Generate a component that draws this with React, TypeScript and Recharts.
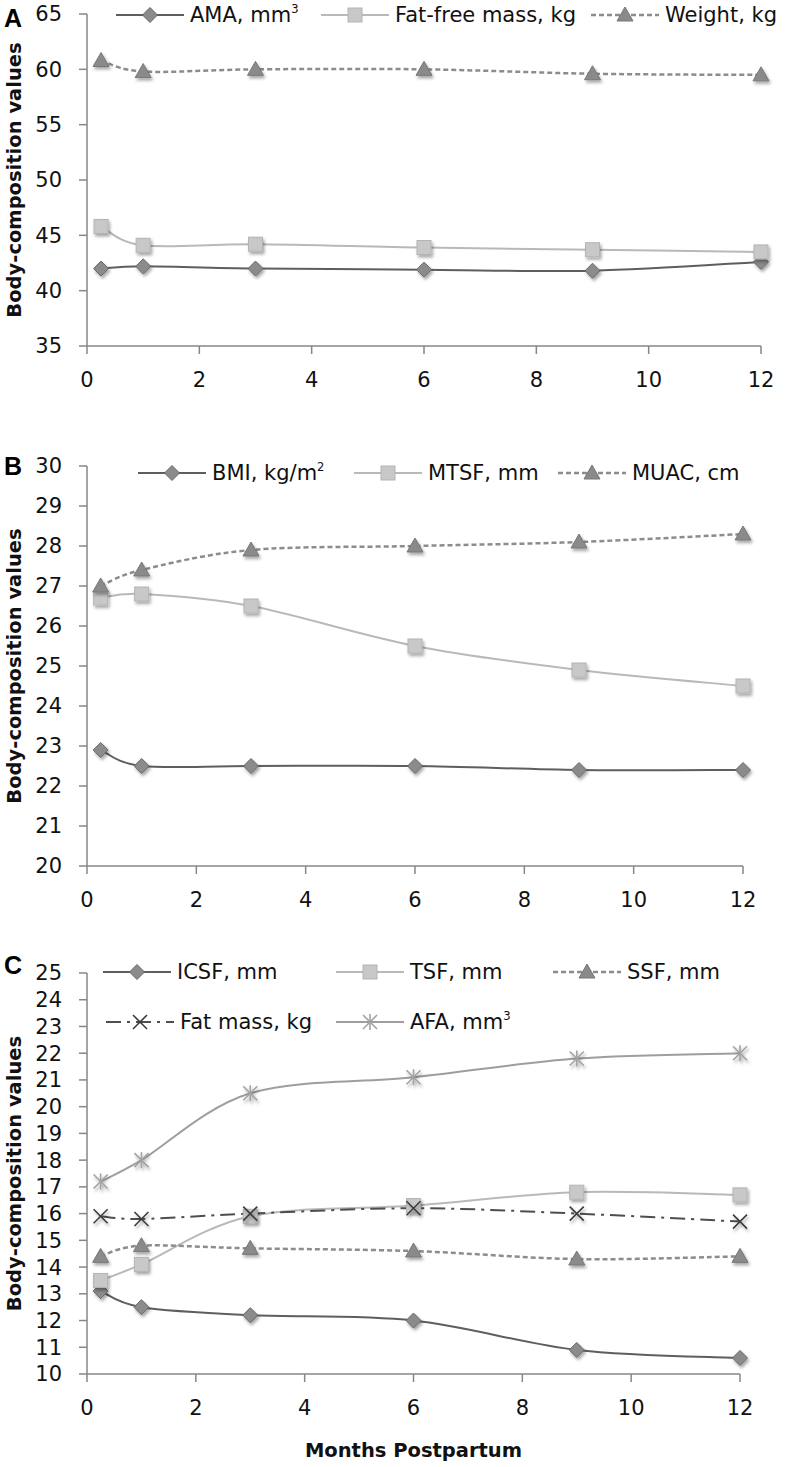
import React from 'react';
import { LineChart, Line, XAxis, YAxis } from 'recharts';

// --- data ---
const MONTHS = [0.25, 1, 3, 6, 9, 12];
const X_TICKS = [0, 2, 4, 6, 8, 10, 12];

// panel A
const AMA = [42.0, 42.2, 42.0, 41.9, 41.8, 42.6];
const FAT_FREE = [45.8, 44.1, 44.2, 43.9, 43.7, 43.5];
const WEIGHT = [60.8, 59.8, 60.0, 60.0, 59.6, 59.5];
const A_TICKS = [35, 40, 45, 50, 55, 60, 65];

// panel B
const BMI = [22.9, 22.5, 22.5, 22.5, 22.4, 22.4];
const MTSF = [26.7, 26.8, 26.5, 25.5, 24.9, 24.5];
const MUAC = [27.0, 27.4, 27.9, 28.0, 28.1, 28.3];
const B_TICKS = [20, 21, 22, 23, 24, 25, 26, 27, 28, 29, 30];

// panel C
const ICSF = [13.1, 12.5, 12.2, 12.0, 10.9, 10.6];
const TSF = [13.5, 14.1, 15.9, 16.3, 16.8, 16.7];
const SSF = [14.4, 14.8, 14.7, 14.6, 14.3, 14.4];
const FAT_MASS = [15.9, 15.8, 16.0, 16.2, 16.0, 15.7];
const AFA = [17.2, 18.0, 20.5, 21.1, 21.8, 22.0];
const C_TICKS = [10, 11, 12, 13, 14, 15, 16, 17, 18, 19, 20, 21, 22, 23, 24, 25];

const FONT = '"DejaVu Sans", "Open Sans", sans-serif';
const AXIS = '#878787';

const rows = (series: Record<string, number[]>) =>
  MONTHS.map((m, i) => {
    const r: any = { m };
    Object.keys(series).forEach(k => { r[k] = series[k][i]; });
    return r;
  });

const dataA = rows({ ama: AMA, ffm: FAT_FREE, wt: WEIGHT });
const dataB = rows({ bmi: BMI, mtsf: MTSF, muac: MUAC });
const dataC = rows({ icsf: ICSF, tsf: TSF, ssf: SSF, fm: FAT_MASS, afa: AFA });

// excel-like smoothed line (catmull-rom style bezier)
const smooth: any = (ctx: any) => {
  let pts: number[][] = [];
  return {
    areaStart() {},
    areaEnd() {},
    lineStart() { pts = []; },
    point(x: number, y: number) { pts.push([+x, +y]); },
    lineEnd() {
      if (!pts.length) return;
      ctx.moveTo(pts[0][0], pts[0][1]);
      const t = 1 / 6;
      for (let i = 0; i < pts.length - 1; i++) {
        const p0 = pts[i - 1] || pts[i];
        const p1 = pts[i];
        const p2 = pts[i + 1];
        const p3 = pts[i + 2] || p2;
        ctx.bezierCurveTo(
          p1[0] + (p2[0] - p0[0]) * t, p1[1] + (p2[1] - p0[1]) * t,
          p2[0] - (p3[0] - p1[0]) * t, p2[1] - (p3[1] - p1[1]) * t,
          p2[0], p2[1]
        );
      }
    },
  };
};

// --- markers ---
type MK = 'diamond' | 'square' | 'triangle' | 'x' | 'star';

const Marker = ({ type, cx, cy, shadow = true }: { type: MK; cx: number; cy: number; shadow?: boolean }) => {
  const f = shadow ? 'url(#mk-shadow)' : undefined;
  if (type === 'diamond') {
    const s = 7.5;
    return <polygon points={`${cx},${cy - s} ${cx + s},${cy} ${cx},${cy + s} ${cx - s},${cy}`} fill="#8b8b8b" stroke="#686868" strokeWidth={1} filter={f} />;
  }
  if (type === 'square') {
    const s = 7;
    return <rect x={cx - s} y={cy - s} width={2 * s} height={2 * s} fill="#c8c8c8" stroke="#b4b4b4" strokeWidth={1} filter={f} />;
  }
  if (type === 'triangle') {
    const s = 8;
    return <polygon points={`${cx},${cy - s} ${cx + s},${cy + s * 0.75} ${cx - s},${cy + s * 0.75}`} fill="#8a8a8a" stroke="#777" strokeWidth={1} filter={f} />;
  }
  if (type === 'x') {
    const s = 7;
    return (
      <g stroke="#3c3c3c" strokeWidth={1.6} filter={f}>
        <line x1={cx - s} y1={cy - s} x2={cx + s} y2={cy + s} />
        <line x1={cx - s} y1={cy + s} x2={cx + s} y2={cy - s} />
      </g>
    );
  }
  const s = 7;
  return (
    <g stroke="#a2a2a2" strokeWidth={1.6} filter={f}>
      <line x1={cx - s} y1={cy - s} x2={cx + s} y2={cy + s} />
      <line x1={cx - s} y1={cy + s} x2={cx + s} y2={cy - s} />
      <line x1={cx} y1={cy - s - 1} x2={cx} y2={cy + s + 1} />
    </g>
  );
};

const sup = (t: string) => <sup style={{ fontSize: '0.55em', verticalAlign: '0.75em', lineHeight: 0 }}>{t}</sup>;

type Series = { key: string; name: React.ReactNode; stroke: string; width: number; dash?: string; marker: MK };

const SA: Series[] = [
  { key: 'ama', name: <>AMA, mm{sup('3')}</>, stroke: '#5e5e5e', width: 2, marker: 'diamond' },
  { key: 'ffm', name: 'Fat-free mass, kg', stroke: '#b9b9b9', width: 2, marker: 'square' },
  { key: 'wt', name: 'Weight, kg', stroke: '#8c8c8c', width: 2.5, dash: '5 3', marker: 'triangle' },
];
const SB: Series[] = [
  { key: 'bmi', name: <>BMI, kg/m{sup('2')}</>, stroke: '#5e5e5e', width: 2, marker: 'diamond' },
  { key: 'mtsf', name: 'MTSF, mm', stroke: '#b9b9b9', width: 2, marker: 'square' },
  { key: 'muac', name: 'MUAC, cm', stroke: '#8c8c8c', width: 2.5, dash: '5 3', marker: 'triangle' },
];
const SC: Series[] = [
  { key: 'icsf', name: 'ICSF, mm', stroke: '#5e5e5e', width: 2, marker: 'diamond' },
  { key: 'tsf', name: 'TSF, mm', stroke: '#b9b9b9', width: 2, marker: 'square' },
  { key: 'ssf', name: 'SSF, mm', stroke: '#8c8c8c', width: 2.5, dash: '5 3', marker: 'triangle' },
  { key: 'fm', name: 'Fat mass, kg', stroke: '#4e4e4e', width: 2, dash: '15 6 3 6', marker: 'x' },
  { key: 'afa', name: <>AFA, mm{sup('3')}</>, stroke: '#9e9e9e', width: 2, marker: 'star' },
];

const LegendItem = ({ s, x, y }: { s: Series; x: number; y: number }) => (
  <div style={{ position: 'absolute', left: x - 74, top: y - 14, height: 28, display: 'flex', alignItems: 'center', whiteSpace: 'nowrap' }}>
    <svg width={68} height={22} style={{ overflow: 'visible' }}>
      <line x1={0} x2={68} y1={11} y2={11} stroke={s.stroke} strokeWidth={s.width} strokeDasharray={s.dash} />
      <Marker type={s.marker} cx={34} cy={11} shadow={false} />
    </svg>
    <span style={{ marginLeft: 6, fontFamily: FONT, fontSize: 21, color: '#111', lineHeight: '28px' }}>{s.name}</span>
  </div>
);

const tickStyle = { fill: '#111', fontSize: 21, fontFamily: FONT };

const Panel = ({ top, height, margin, data, series, domain, ticks, xLabel }: any) => (
  <div style={{ position: 'absolute', left: 0, top }}>
    <LineChart width={789} height={height} data={data} margin={margin}>
      <XAxis
        dataKey="m" type="number" domain={[0, 12]} ticks={X_TICKS} interval={0}
        stroke={AXIS} strokeWidth={1.5} tickSize={8} tickMargin={18} tick={tickStyle}
        tickLine={{ stroke: AXIS, strokeWidth: 1.5 }}
        height={xLabel ? 90 : 40}
        label={xLabel ? { value: 'Months Postpartum', position: 'insideBottom', offset: 7, fill: '#111', fontSize: 19.5, fontWeight: 'bold', fontFamily: FONT } : undefined}
      />
      <YAxis
        type="number" domain={domain} ticks={ticks} interval={0} width={87}
        stroke={AXIS} strokeWidth={1.5} tickSize={8} tickMargin={17} tick={tickStyle}
        tickLine={{ stroke: AXIS, strokeWidth: 1.5 }}
        label={{ value: 'Body-composition values', angle: -90, position: 'insideLeft', offset: 14, fill: '#111', fontSize: 19.5, fontWeight: 'bold', fontFamily: FONT, style: { textAnchor: 'middle' } }}
      />
      {series.map((s: Series) => (
        <Line
          key={s.key} dataKey={s.key} type={smooth} stroke={s.stroke} strokeWidth={s.width}
          strokeDasharray={s.dash} isAnimationActive={false} activeDot={false}
          dot={(p: any) => <Marker key={`${s.key}-${p.index}`} type={s.marker} cx={p.cx} cy={p.cy} />}
        />
      ))}
    </LineChart>
  </div>
);

const letterStyle: React.CSSProperties = {
  position: 'absolute', left: 4, fontFamily: '"Liberation Sans", Arial, sans-serif',
  fontWeight: 'bold', fontSize: 25, lineHeight: '25px', color: '#000',
};

export default function App() {
  return (
    <div style={{ position: 'absolute', left: 0, top: 0, width: 789, height: 1467, background: '#fff', overflow: 'hidden' }}>
      <svg width={0} height={0} style={{ position: 'absolute' }}>
        <defs>
          <filter id="mk-shadow" x="-60%" y="-60%" width="220%" height="220%">
            <feDropShadow dx="1.5" dy="2.5" stdDeviation="1.8" floodColor="#000" floodOpacity="0.35" />
          </filter>
        </defs>
      </svg>

      <Panel top={0} height={400} margin={{ top: 14, right: 28, left: 0, bottom: 14 }}
        data={dataA} series={SA} domain={[35, 65]} ticks={A_TICKS} />
      <Panel top={440} height={480} margin={{ top: 26, right: 46, left: 0, bottom: 14 }}
        data={dataB} series={SB} domain={[20, 30]} ticks={B_TICKS} />
      <Panel top={940} height={527} margin={{ top: 33, right: 49, left: 0, bottom: 3 }}
        data={dataC} series={SC} domain={[10, 25]} ticks={C_TICKS} xLabel />

      <div style={{ ...letterStyle, top: 6 }}>A</div>
      <div style={{ ...letterStyle, top: 454 }}>B</div>
      <div style={{ ...letterStyle, top: 953 }}>C</div>

      <LegendItem s={SA[0]} x={190} y={15} />
      <LegendItem s={SA[1]} x={395} y={15} />
      <LegendItem s={SA[2]} x={665} y={15} />

      <LegendItem s={SB[0]} x={212} y={473} />
      <LegendItem s={SB[1]} x={428} y={473} />
      <LegendItem s={SB[2]} x={632} y={473} />

      <LegendItem s={SC[0]} x={177} y={972} />
      <LegendItem s={SC[1]} x={410} y={972} />
      <LegendItem s={SC[2]} x={627} y={972} />
      <LegendItem s={SC[3]} x={180} y={1022} />
      <LegendItem s={SC[4]} x={410} y={1022} />
    </div>
  );
}
